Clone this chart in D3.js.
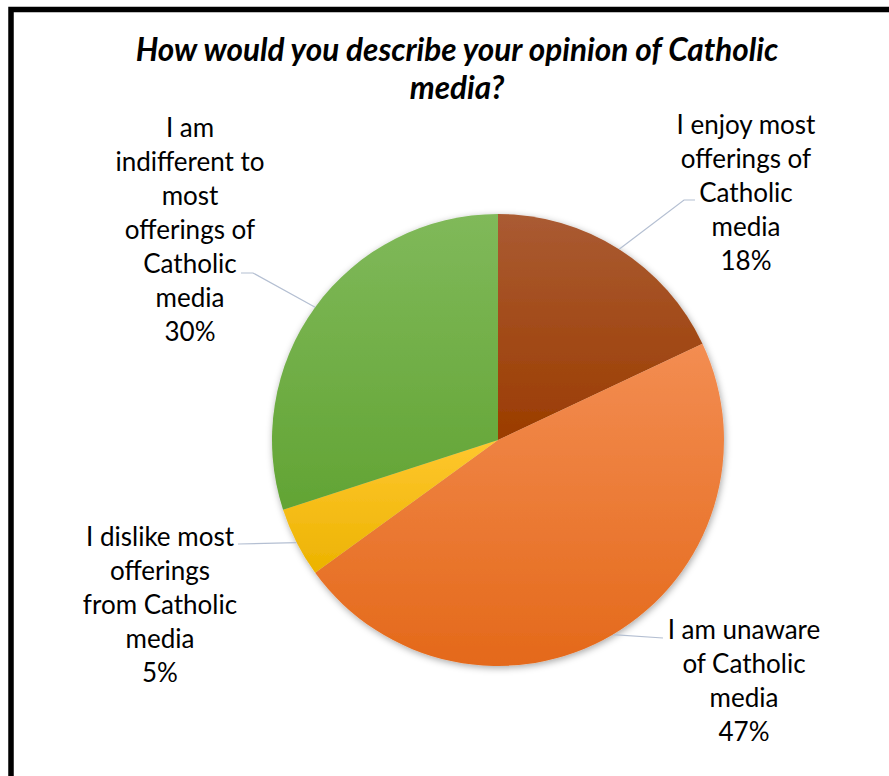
<!DOCTYPE html>
<html>
<head>
<meta charset="utf-8">
<script src="https://cdn.jsdelivr.net/npm/d3@7"></script>
<style>
  html, body { margin: 0; padding: 0; background: #fff; }
  svg { display: block; }
</style>
</head>
<body>
<svg id="chart" width="889" height="776"></svg>
<script>
// Survey answers, in drawing order (clockwise from 12 o'clock)
const categories = [
  "I enjoy most offerings of Catholic media",
  "I am unaware of Catholic media",
  "I dislike most offerings from Catholic media",
  "I am indifferent to most offerings of Catholic media"
];
const shares = [18, 47, 5, 30];
const labelLines = [
  ["I enjoy most", "offerings of", "Catholic", "media"],
  ["I am unaware", "of Catholic", "media"],
  ["I dislike most", "offerings", "from Catholic", "media"],
  ["I am", "indifferent to", "most", "offerings of", "Catholic", "media"]
];
const titleLines = ["How would you describe your opinion of Catholic", "media?"];

// Slice fills: top and bottom stops of each vertical gradient
const sliceTop = ["#aa5b33", "#f38d52", "#ffc72f", "#80b95a"];
const sliceBottom = ["#9b3c00", "#e4691a", "#ecb300", "#62a434"];

// Layout
const W = 889, H = 776;
const cx = 498, cy = 440, R = 226;
const labelFont = "Lato, 'Open Sans', sans-serif";
const labelSize = 26, lineGap = 34;
const labelLayout = [
  { x: 746, y: 134, path: [[684, 200], [695, 200]] },
  { x: 744, y: 639, path: [[663, 638]] },
  { x: 160, y: 546, path: [[238, 544]] },
  { x: 190, y: 137, path: [[253, 273], [241, 273]] }
];

const svg = d3.select("#chart");
const defs = svg.append("defs");

const shadow = defs.append("filter").attr("id", "pieShadow")
  .attr("x", "-10%").attr("y", "-10%").attr("width", "120%").attr("height", "120%");
shadow.append("feDropShadow")
  .attr("dx", 1).attr("dy", 2).attr("stdDeviation", 3.5)
  .attr("flood-color", "#000").attr("flood-opacity", 0.35);

shares.forEach((_, i) => {
  const g = defs.append("linearGradient").attr("id", "slice" + i)
    .attr("x1", 0).attr("y1", 0).attr("x2", 0).attr("y2", 1);
  g.append("stop").attr("offset", "0%").attr("stop-color", sliceTop[i]);
  g.append("stop").attr("offset", "100%").attr("stop-color", sliceBottom[i]);
});

// Frame
svg.append("rect")
  .attr("x", 11).attr("y", 9.5)
  .attr("width", W + 20).attr("height", H + 20)
  .attr("fill", "none").attr("stroke", "#000").attr("stroke-width", 5.5);

// Title
const title = svg.append("text")
  .attr("text-anchor", "middle")
  .attr("font-family", labelFont)
  .attr("font-size", 31.5)
  .attr("font-weight", "bold")
  .attr("font-style", "italic")
  .attr("fill", "#000");
titleLines.forEach((t, i) => {
  title.append("tspan").attr("x", 457).attr("y", 61 + i * 38).text(t);
});

// Pie
const pie = d3.pie().sort(null).value(d => d);
const arcs = pie(shares);
const arc = d3.arc().innerRadius(0).outerRadius(R);

const pieG = svg.append("g")
  .attr("transform", `translate(${cx},${cy})`)
  .attr("filter", "url(#pieShadow)");
pieG.selectAll("path.slice")
  .data(arcs)
  .join("path")
  .attr("class", "slice")
  .attr("d", arc)
  .attr("fill", (d, i) => `url(#slice${i})`);

// Leader lines from the middle of each slice's rim to its label
const rim = d3.arc().innerRadius(R).outerRadius(R);
svg.append("g")
  .selectAll("polyline")
  .data(arcs)
  .join("polyline")
  .attr("points", (d, i) => {
    const c = rim.centroid(d);
    const pts = [[cx + c[0], cy + c[1]], ...labelLayout[i].path];
    return pts.map(p => p.join(",")).join(" ");
  })
  .attr("fill", "none")
  .attr("stroke", "#b4bfd2")
  .attr("stroke-width", 1.2);

// Data labels: category name wrapped, then the percentage
const fmt = d => d + "%";
const labels = svg.append("g")
  .attr("font-family", labelFont)
  .attr("font-size", labelSize)
  .attr("fill", "#000")
  .attr("text-anchor", "middle");
arcs.forEach((d, i) => {
  const lay = labelLayout[i];
  const t = labels.append("text").attr("class", "label");
  const lines = labelLines[i].concat([fmt(d.data)]);
  lines.forEach((line, j) => {
    t.append("tspan").attr("x", lay.x).attr("y", lay.y + j * lineGap).text(line);
  });
});
</script>
</body>
</html>
